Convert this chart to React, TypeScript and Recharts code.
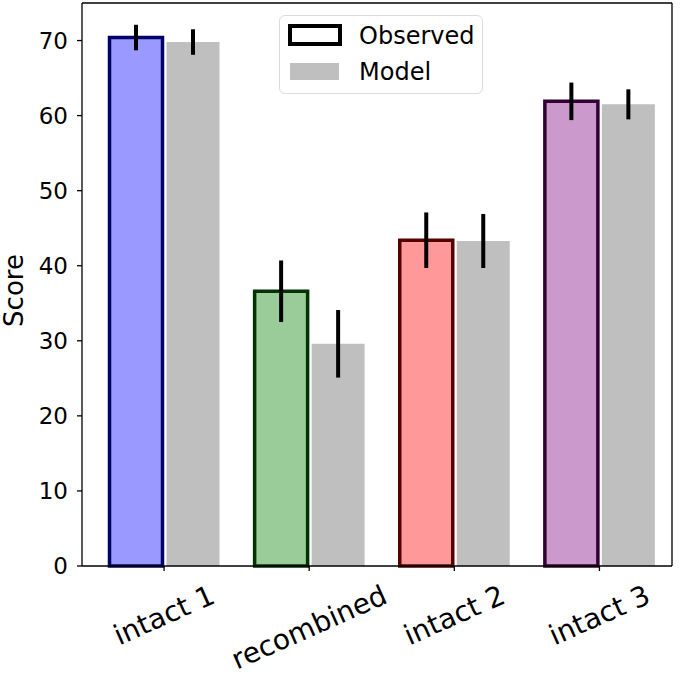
import React from 'react';
import { ComposedChart, Bar, Line, XAxis, YAxis, ErrorBar, Cell, Legend } from 'recharts';

const categories = ['intact 1', 'recombined', 'intact 2', 'intact 3'];
const observed = [70.4, 36.6, 43.4, 61.9];
const observedErr = [1.7, 4.1, 3.7, 2.5];
const model = [69.8, 29.6, 43.3, 61.5];
const modelErr = [1.7, 4.5, 3.6, 2.0];
const yTicks = [0, 10, 20, 30, 40, 50, 60, 70];

const obsFill = ['#9999ff', '#99cc99', '#ff9999', '#cc99cc'];
const obsEdge = ['#000066', '#003300', '#550000', '#330033'];

const FONT = '"DejaVu Sans", sans-serif';

const data = categories.map((name, i) => ({
    name,
    observed: observed[i],
    obsErr: observedErr[i],
    model: model[i],
    modelErr: modelErr[i],
}));

let ctx: CanvasRenderingContext2D | null = null;
const measure = (text: string, size: number) => {
    if (!ctx) ctx = document.createElement('canvas').getContext('2d');
    if (!ctx) return text.length * size * 0.6;
    ctx.font = `${size}px "DejaVu Sans"`;
    return ctx.measureText(text).width;
};

// rotated tick label, bbox centered under the tick like matplotlib
const XTick = (props: any) => {
    const { x, y, payload } = props;
    const size = 28;
    const angle = 24;
    const rad = (angle * Math.PI) / 180;
    const L = measure(String(payload.value), size);
    const h = size * 0.9;
    const H = L * Math.sin(rad) + h * Math.cos(rad);
    const cy = y + 9 + H / 2;
    return (
        <text
            x={x}
            y={cy}
            textAnchor="middle"
            dominantBaseline="central"
            fontSize={size}
            fontFamily={FONT}
            fill="#000"
            transform={`rotate(-${angle}, ${x}, ${cy})`}
        >
            {payload.value}
        </text>
    );
};

const ScoreLabel = (props: any) => {
    const vb = props.viewBox;
    const cx = 23;
    const cy = vb.y + vb.height / 2 + 6;
    return (
        <text x={cx} y={cy} textAnchor="middle" fontSize={26} fontFamily={FONT} fill="#000"
            transform={`rotate(-90, ${cx}, ${cy})`}>
            Score
        </text>
    );
};

const LegendBox = () => (
    <div style={{
        width: 204, height: 79, boxSizing: 'border-box', border: '1.5px solid #dcdcdc', borderRadius: 6,
        background: 'rgba(255,255,255,0.8)', position: 'relative', fontFamily: FONT, fontSize: 24, color: '#000',
    }}>
        <svg width={70} height={79} style={{ position: 'absolute', left: 0, top: 0 }}>
            <rect x={10} y={10} width={50} height={18} fill="#fff" stroke="#000" strokeWidth={4} />
            <rect x={10} y={47} width={49} height={17} fill="#bfbfbf" />
        </svg>
        <div style={{ position: 'absolute', left: 79, top: 5, lineHeight: '30px' }}>Observed</div>
        <div style={{ position: 'absolute', left: 79, top: 41, lineHeight: '30px' }}>Model</div>
    </div>
);

export default function App() {
    return (
        <div>
            <style>{'body{margin:0}'}</style>
            <ComposedChart
                width={685}
                height={680}
                data={data}
                margin={{ top: 2, right: 12, bottom: 54, left: 0 }}
                barSize={53}
                barGap={4}
            >
                <XAxis
                    dataKey="name"
                    height={60}
                    padding={{ left: 9.5, right: 0 }}
                    axisLine={{ stroke: '#000', strokeWidth: 1.3 }}
                    tickLine={{ stroke: '#000', strokeWidth: 1.3 }}
                    tickSize={5}
                    tick={<XTick />}
                    interval={0}
                />
                <XAxis
                    xAxisId="top"
                    dataKey="name"
                    orientation="top"
                    height={1}
                    tick={false}
                    tickLine={false}
                    axisLine={{ stroke: '#000', strokeWidth: 1.3 }}
                />
                <YAxis
                    width={82}
                    domain={[0, 75]}
                    ticks={yTicks}
                    interval={0}
                    tickSize={5}
                    tickMargin={9}
                    axisLine={{ stroke: '#000', strokeWidth: 1.3 }}
                    tickLine={{ stroke: '#000', strokeWidth: 1.3 }}
                    tick={{ fill: '#000', fontSize: 23, fontFamily: FONT }}
                    label={<ScoreLabel />}
                />
                <YAxis
                    yAxisId="right"
                    orientation="right"
                    width={1}
                    domain={[0, 75]}
                    tick={false}
                    tickLine={false}
                    axisLine={{ stroke: '#000', strokeWidth: 1.3 }}
                />
                <Legend
                    layout="vertical"
                    align="center"
                    verticalAlign="middle"
                    wrapperStyle={{ top: 15, left: 279, width: 204 }}
                    content={<LegendBox />}
                />
                <Bar dataKey="observed" name="Observed" strokeWidth={3.5} isAnimationActive={false}>
                    {data.map((_, i) => (
                        <Cell key={i} fill={obsFill[i]} stroke={obsEdge[i]} />
                    ))}
                    <ErrorBar dataKey="obsErr" width={0} stroke="#000" strokeWidth={4} direction="y" isAnimationActive={false} />
                </Bar>
                <Bar dataKey="model" name="Model" fill="#bfbfbf" isAnimationActive={false}>
                    <ErrorBar dataKey="modelErr" width={0} stroke="#000" strokeWidth={4} direction="y" isAnimationActive={false} />
                </Bar>
                {/* invisible series so the frame axes get drawn */}
                <Line
                    xAxisId="top"
                    yAxisId="right"
                    dataKey="model"
                    stroke="none"
                    dot={false}
                    activeDot={false}
                    legendType="none"
                    isAnimationActive={false}
                />
            </ComposedChart>
        </div>
    );
}
